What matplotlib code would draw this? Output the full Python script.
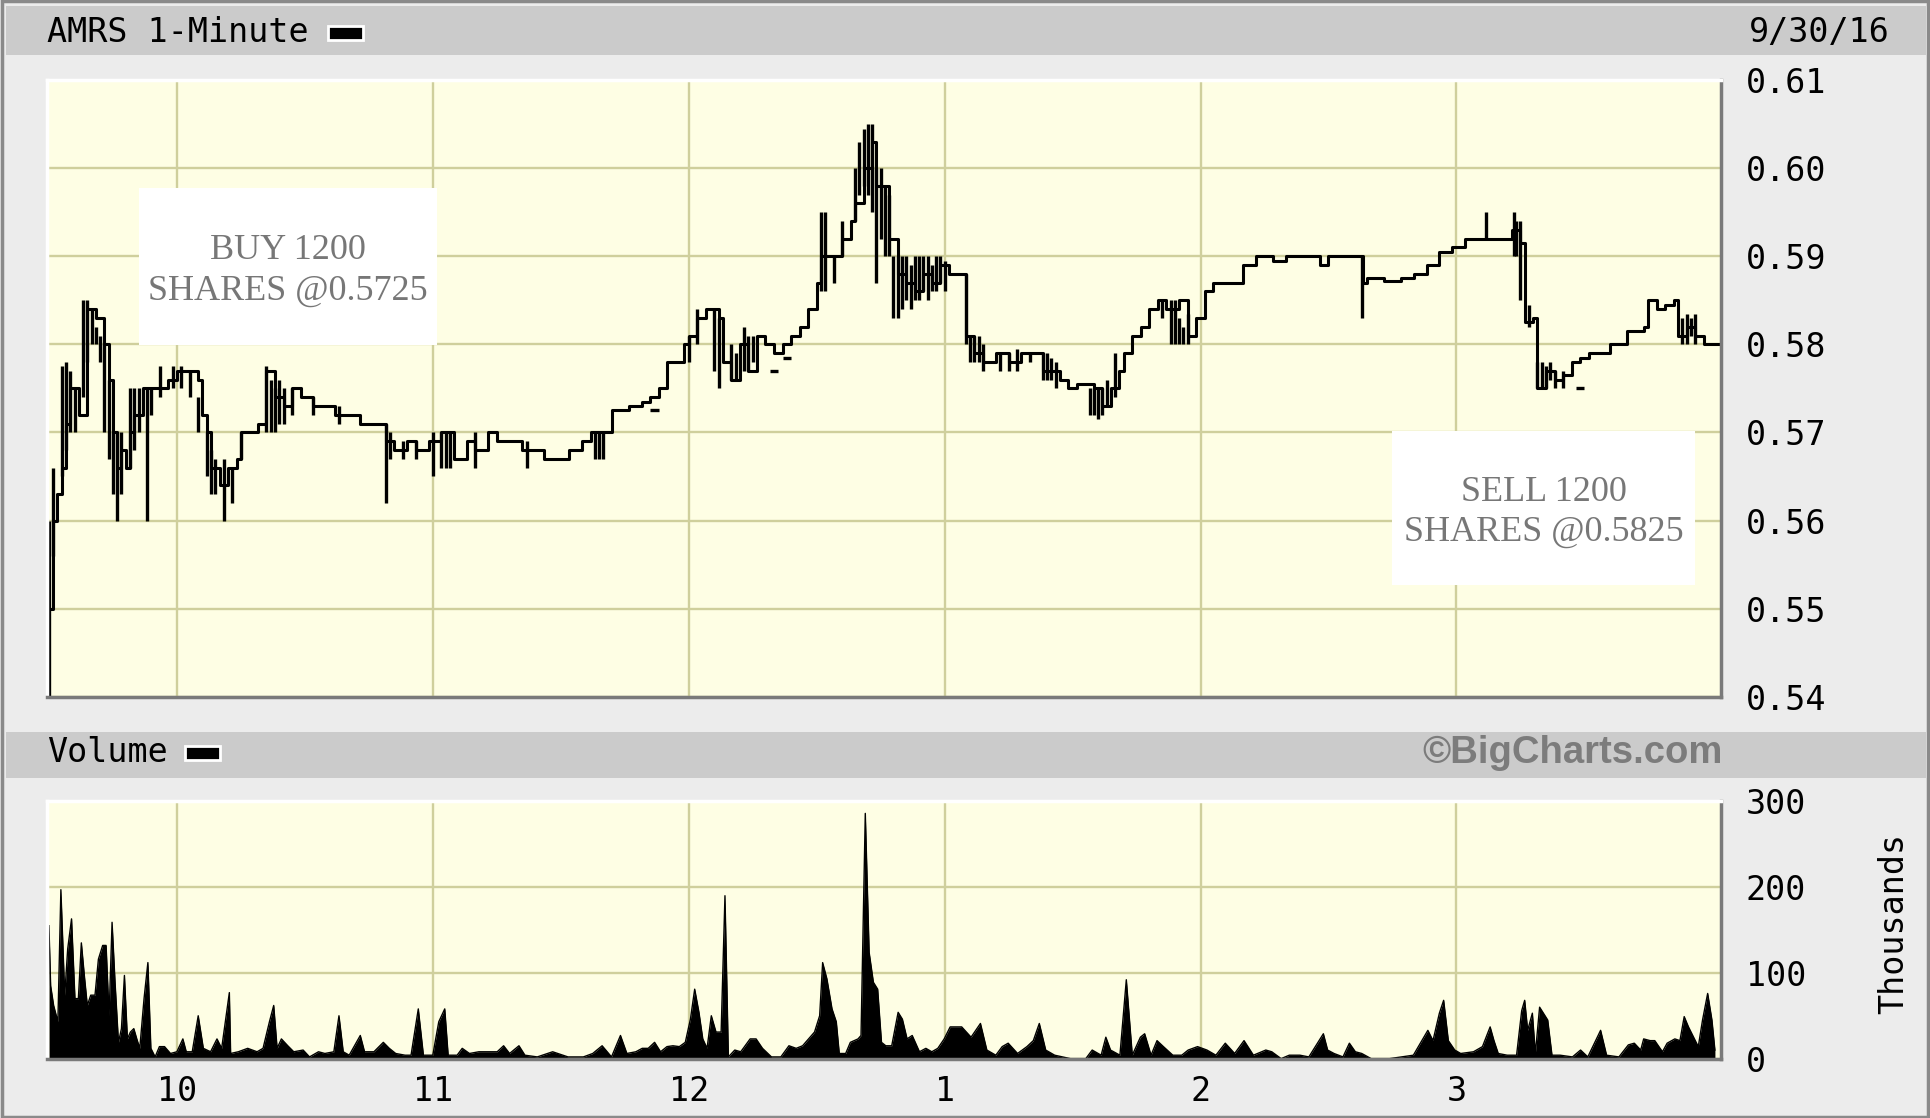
import numpy as np
import matplotlib.pyplot as plt
from matplotlib.patches import Rectangle

# AMRS 1-minute, 9/30/16 -- times are minutes after 9:30
price_min = [0, 1, 2, 3, 4, 5, 7, 9, 11, 13, 14, 15, 16, 17, 18, 19, 20, 22, 24, 26,
             28, 30, 33, 35, 36, 37, 38, 40, 42, 44, 45, 47, 49, 51, 53, 55, 57, 59, 62, 65,
             67, 70, 73, 76, 79, 81, 84, 86, 89, 92, 95, 98, 100, 103, 105, 108, 111, 113, 116, 119,
             122, 125, 127, 130, 132, 136, 139, 141, 143, 145, 147, 149, 150, 152, 154, 157, 158, 160, 162, 164,
             166, 168, 170, 172, 174, 176, 178, 180, 181, 183, 185, 186, 188, 189, 191, 193, 194, 196, 197, 199,
             201, 203, 205, 207, 209, 211, 213, 215, 217, 219, 222, 225, 228, 231, 233, 235, 237, 239, 241, 243,
             245, 247, 249, 251, 252, 254, 256, 258, 260, 262, 265, 267, 269, 271, 273, 277, 280, 283, 287, 290,
             295, 298, 300, 305, 308, 309, 313, 317, 320, 323, 326, 329, 332, 336, 340, 343, 345, 346, 348, 349,
             351, 353, 355, 357, 359, 361, 364, 366, 368, 370, 374, 375, 377, 379, 381, 382, 384, 386, 388, 392]
price_close = [0.550, 0.560, 0.563, 0.566, 0.571, 0.575, 0.572, 0.584, 0.583, 0.580, 0.576, 0.570, 0.566, 0.568, 0.566, 0.570, 0.572, 0.575, 0.575, 0.575,
               0.576, 0.577, 0.577, 0.576, 0.572, 0.570, 0.566, 0.564, 0.566, 0.567, 0.570, 0.570, 0.571, 0.577, 0.574, 0.573, 0.575, 0.574, 0.573, 0.573,
               0.572, 0.572, 0.571, 0.571, 0.569, 0.568, 0.569, 0.568, 0.569, 0.570, 0.567, 0.569, 0.568, 0.570, 0.569, 0.569, 0.568, 0.568, 0.567, 0.567,
               0.568, 0.569, 0.570, 0.570, 0.5725, 0.573, 0.5735, 0.574, 0.575, 0.578, 0.578, 0.580, 0.581, 0.583, 0.584, 0.583, 0.578, 0.576, 0.580, 0.577,
               0.581, 0.580, 0.579, 0.580, 0.581, 0.582, 0.584, 0.587, 0.590, 0.590, 0.590, 0.592, 0.594, 0.596, 0.600, 0.603, 0.598, 0.598, 0.592, 0.588,
               0.587, 0.586, 0.588, 0.587, 0.589, 0.588, 0.588, 0.581, 0.579, 0.578, 0.579, 0.578, 0.579, 0.579, 0.577, 0.577, 0.576, 0.575, 0.5755, 0.5755,
               0.575, 0.573, 0.575, 0.577, 0.579, 0.581, 0.582, 0.584, 0.585, 0.584, 0.585, 0.581, 0.583, 0.586, 0.587, 0.587, 0.589, 0.590, 0.5895, 0.590,
               0.590, 0.589, 0.590, 0.590, 0.587, 0.5875, 0.5872, 0.5875, 0.588, 0.589, 0.5905, 0.591, 0.592, 0.592, 0.592, 0.593, 0.5915, 0.5825, 0.583, 0.575,
               0.577, 0.576, 0.5765, 0.578, 0.5785, 0.579, 0.579, 0.580, 0.580, 0.5815, 0.582, 0.585, 0.584, 0.5845, 0.585, 0.581, 0.582, 0.581, 0.580, 0.580]

# per-minute high/low ranges (the dense vertical strokes)
bar_min = [0, 1, 3, 4, 5, 6, 8, 9, 10, 11, 12, 13, 14, 15, 16, 17, 19, 20, 21, 23,
           24, 26, 29, 31, 33, 35, 37, 38, 39, 41, 43, 45, 51, 52, 53, 54, 55, 57, 62, 68,
           79, 80, 83, 86, 90, 92, 93, 94, 100, 112, 128, 129, 130, 150, 152, 156, 157, 160, 161, 163,
           164, 165, 181, 182, 184, 186, 189, 190, 191, 192, 193, 194, 195, 196, 197, 198, 199, 200, 201, 202,
           203, 204, 205, 206, 207, 208, 209, 210, 215, 216, 217, 218, 219, 223, 225, 227, 230, 233, 234, 235,
           236, 244, 245, 246, 247, 248, 250, 261, 263, 264, 265, 266, 267, 307.8, 337, 343.5, 344, 345, 347, 349,
           350, 351, 352, 353, 355, 383, 384, 385, 386]
bar_low = [0.540, 0.556, 0.565, 0.568, 0.570, 0.570, 0.574, 0.578, 0.580, 0.580, 0.578, 0.570, 0.567, 0.563, 0.560, 0.563, 0.566, 0.568, 0.570, 0.560,
           0.572, 0.574, 0.575, 0.575, 0.574, 0.570, 0.565, 0.563, 0.563, 0.560, 0.562, 0.567, 0.570, 0.570, 0.570, 0.571, 0.571, 0.572, 0.572, 0.571,
           0.562, 0.567, 0.567, 0.567, 0.565, 0.566, 0.566, 0.566, 0.566, 0.566, 0.567, 0.567, 0.567, 0.578, 0.580, 0.577, 0.575, 0.576, 0.576, 0.577,
           0.577, 0.578, 0.586, 0.586, 0.587, 0.590, 0.594, 0.597, 0.598, 0.597, 0.595, 0.587, 0.592, 0.590, 0.590, 0.583, 0.583, 0.584, 0.585, 0.584,
           0.585, 0.585, 0.586, 0.585, 0.586, 0.586, 0.587, 0.586, 0.580, 0.578, 0.578, 0.578, 0.577, 0.577, 0.577, 0.577, 0.578, 0.576, 0.576, 0.576,
           0.575, 0.572, 0.572, 0.5715, 0.572, 0.573, 0.574, 0.583, 0.580, 0.580, 0.580, 0.580, 0.580, 0.583, 0.592, 0.590, 0.590, 0.585, 0.582, 0.575,
           0.575, 0.575, 0.576, 0.575, 0.575, 0.580, 0.580, 0.581, 0.580]
bar_high = [0.560, 0.566, 0.5775, 0.578, 0.577, 0.575, 0.585, 0.585, 0.584, 0.582, 0.581, 0.580, 0.576, 0.570, 0.570, 0.570, 0.575, 0.575, 0.575, 0.575,
            0.575, 0.5775, 0.5775, 0.5775, 0.577, 0.574, 0.570, 0.568, 0.567, 0.567, 0.566, 0.570, 0.5775, 0.576, 0.575, 0.576, 0.575, 0.575, 0.574, 0.573,
            0.571, 0.570, 0.569, 0.569, 0.570, 0.570, 0.570, 0.570, 0.570, 0.569, 0.570, 0.570, 0.570, 0.581, 0.584, 0.584, 0.583, 0.580, 0.579, 0.582,
            0.581, 0.581, 0.595, 0.595, 0.590, 0.594, 0.600, 0.603, 0.6045, 0.605, 0.605, 0.600, 0.600, 0.598, 0.597, 0.590, 0.590, 0.590, 0.590, 0.589,
            0.590, 0.590, 0.590, 0.590, 0.589, 0.590, 0.590, 0.5895, 0.588, 0.581, 0.581, 0.581, 0.580, 0.579, 0.579, 0.5795, 0.579, 0.579, 0.579, 0.5785,
            0.578, 0.575, 0.575, 0.575, 0.575, 0.576, 0.579, 0.585, 0.585, 0.585, 0.583, 0.582, 0.5835, 0.590, 0.595, 0.595, 0.594, 0.594, 0.5845, 0.578,
            0.578, 0.5775, 0.578, 0.577, 0.577, 0.583, 0.5835, 0.583, 0.5835]

# stray one-trade ticks
dash_min = [170, 173, 142, 359]
dash_px = [0.577, 0.5785, 0.5725, 0.575]

vol_min = [0, 0.4, 1.1, 2.1, 2.8, 3.7, 4.4, 5.3, 6.1, 6.9, 7.6, 8.3, 9.0, 9.8, 10.8, 11.6, 12.6, 13.4, 14.1, 14.8,
           15.5, 16.3, 17.0, 17.7, 18.4, 19.1, 19.9, 20.6, 21.3, 22.3, 23.2, 23.9, 24.9, 25.9, 27.1, 28.5, 30.0, 31.4, 32.2, 33.6,
           35.0, 36.2, 37.9, 39.4, 40.5, 42.3, 42.6, 44.4, 46.6, 48.8, 50.2, 51.7, 52.7, 53.5, 54.5, 56.0, 57.4, 59.6, 61.1, 63.2,
           64.7, 66.8, 68.0, 69.0, 70.4, 73.0, 74.0, 76.2, 78.4, 79.8, 81.3, 83.5, 84.9, 86.6, 87.8, 90.0, 91.4, 92.8, 93.6, 95.7,
           96.9, 98.6, 100.8, 103.0, 105.1, 106.6, 108.0, 110.2, 111.6, 114.5, 118.1, 121.7, 125.3, 127.5, 129.7, 131.9, 134.0, 135.5, 137.6, 139.1,
           140.5, 142.0, 143.4, 144.9, 146.3, 147.8, 149.2, 150.4, 151.4, 152.4, 153.3, 154.3, 155.3, 156.4, 157.6, 158.5, 159.3, 160.8, 162.2, 164.4,
           165.8, 167.3, 169.4, 171.6, 173.5, 175.2, 176.7, 178.1, 179.5, 180.7, 181.4, 182.4, 183.6, 184.6, 185.3, 186.8, 187.9, 189.7, 190.4, 191.4,
           192.3, 193.3, 194.3, 195.2, 196.2, 197.6, 199.1, 200.1, 201.2, 202.4, 204.1, 205.6, 207.0, 208.4, 209.9, 211.3, 214.0, 216.2, 218.4, 219.9,
           222.0, 223.5, 224.9, 227.1, 229.3, 230.8, 232.2, 233.7, 235.8, 239.5, 243.1, 244.6, 246.7, 247.8, 248.9, 251.1, 252.6, 254.0, 255.9, 256.9,
           258.4, 259.8, 261.3, 263.5, 265.6, 267.1, 269.3, 271.5, 273.6, 275.8, 278.0, 280.2, 282.4, 285.3, 286.7, 288.9, 290.8, 293.3, 295.4, 298.8,
           299.8, 301.3, 303.4, 304.9, 306.3, 307.8, 310.0, 314.3, 319.9, 323.3, 324.5, 326.0, 327.0, 328.1, 329.6, 331.0, 334.0, 336.1, 337.9, 338.8,
           339.8, 341.9, 344.1, 345.3, 346.0, 346.7, 347.8, 348.5, 349.5, 350.4, 351.4, 352.4, 354.3, 357.2, 359.1, 360.8, 363.8, 365.2, 368.1, 370.3,
           371.7, 373.2, 373.9, 375.4, 376.5, 378.3, 379.4, 381.2, 382.4, 383.4, 384.4, 385.6, 386.7, 387.7, 388.9, 389.9, 390.6]
vol_k = [155, 85, 62, 43, 197, 74, 128, 163, 70, 70, 135, 97, 62, 74, 74, 116, 132, 132, 50, 159,
         89, 19, 35, 97, 23, 31, 35, 23, 12, 70, 112, 12, 2, 14, 14, 6, 8, 23, 8, 8,
         50, 12, 8, 23, 12, 77, 6, 8, 12, 8, 12, 43, 62, 12, 23, 15, 8, 10, 2, 8,
         6, 8, 50, 8, 4, 27, 8, 8, 19, 12, 6, 4, 4, 58, 4, 4, 43, 58, 4, 4,
         12, 6, 8, 8, 8, 15, 6, 15, 4, 2, 8, 2, 2, 6, 15, 2, 27, 6, 8, 12,
         12, 19, 8, 14, 15, 14, 19, 46, 81, 54, 23, 12, 50, 31, 31, 190, 2, 10, 8, 23,
         23, 12, 2, 2, 15, 12, 15, 23, 31, 50, 112, 93, 58, 43, 6, 6, 19, 23, 27, 286,
         124, 89, 81, 19, 15, 15, 54, 46, 23, 27, 8, 12, 8, 12, 23, 37, 37, 25, 41, 10,
         4, 14, 18, 6, 14, 21, 41, 10, 4, 0, 0, 10, 4, 25, 10, 4, 92, 4, 25, 29,
         4, 21, 14, 4, 4, 10, 14, 10, 4, 18, 6, 21, 4, 10, 8, 0, 4, 4, 2, 29,
         10, 6, 2, 18, 8, 6, 0, 0, 4, 33, 21, 53, 68, 21, 10, 6, 8, 14, 37, 21,
         6, 4, 4, 56, 68, 33, 53, 6, 60, 53, 45, 4, 4, 2, 10, 2, 33, 4, 2, 16,
         18, 10, 23, 21, 21, 8, 18, 23, 21, 49, 37, 25, 14, 45, 76, 45, 10]

hour_min = [30, 90, 150, 210, 270, 330]
hour_labels = ["10", "11", "12", "1", "2", "3"]
price_ticks = [0.54, 0.55, 0.56, 0.57, 0.58, 0.59, 0.60, 0.61]
vol_ticks = [0, 100, 200, 300]

face = "#fefee4"
grid_c = "#cfcf9c"
mono = "DejaVu Sans Mono"
fs = 24

fig = plt.figure(figsize=(19.3, 11.18), dpi=100, facecolor="#ececec")

# frame + title bars
fig.patches.append(Rectangle((0.001, 0.001), 0.998, 0.998, transform=fig.transFigure,
                             fill=False, edgecolor="#8a8a8a", lw=2.5))
for y0, h in [(0.9508, 0.0438), (0.3041, 0.0412)]:
    fig.patches.append(Rectangle((0.0031, y0), 0.9949, h, transform=fig.transFigure,
                                 facecolor="#cbcbcb", edgecolor="none"))
for x0, y0 in [(0.1700, 0.9640), (0.0960, 0.3200)]:
    fig.patches.append(Rectangle((x0, y0), 0.0180, 0.0125, transform=fig.transFigure,
                                 facecolor="black", edgecolor="white", lw=2))

fig.text(0.0244, 0.9705, "AMRS 1-Minute", family=mono, fontsize=fs, va="center", ha="left")
fig.text(0.0244, 0.3265, "Volume", family=mono, fontsize=fs, va="center", ha="left")
fig.text(0.9790, 0.9705, "9/30/16", family=mono, fontsize=fs, va="center", ha="right")
fig.text(0.8928, 0.3265, "\u00a9BigCharts.com", family="Liberation Sans", fontweight="bold",
         fontsize=27.5, color="#7c7c7c", va="center", ha="right")
fig.text(0.981, 0.1744, "Thousands", family=mono, fontsize=fs, rotation=90, va="center", ha="center")

ax = fig.add_axes([0.02425, 0.3768, 0.8674, 0.5516])
axv = fig.add_axes([0.02425, 0.0531, 0.8674, 0.2301])

for a in (ax, axv):
    a.set_facecolor(face)
    a.set_xlim(-0.5, 392)
    a.set_xticks(hour_min)
    a.grid(True, color=grid_c, lw=1.7)
    a.set_axisbelow(True)
    a.yaxis.tick_right()
    a.tick_params(length=0, labelsize=fs, pad=18)
    for lab in a.get_xticklabels() + a.get_yticklabels():
        lab.set_family(mono)
    a.spines["top"].set_color("white")
    a.spines["left"].set_color("white")
    a.spines["right"].set_color("#7a7a7a")
    a.spines["bottom"].set_color("#7a7a7a")
    for s in a.spines.values():
        s.set_linewidth(2.5)

# price panel
ax.set_ylim(0.54, 0.61)
ax.set_yticks(price_ticks)
ax.set_yticklabels(["%.2f" % v for v in price_ticks])
ax.set_xticklabels([])
ax.plot(price_min, price_close, drawstyle="steps-post", color="black", lw=2.2)
ax.vlines(bar_min, bar_low, bar_high, color="black", lw=2.4)
ax.hlines(dash_px, np.array(dash_min) - 1, np.array(dash_min) + 1, color="black", lw=2.4)

# trade notes
for x0, x1, y0, y1, txt in [(21, 91, 0.5799, 0.5978, "BUY 1200\nSHARES @0.5725"),
                            (315, 386, 0.5527, 0.5702, "SELL 1200\nSHARES @0.5825")]:
    ax.add_patch(Rectangle((x0, y0), x1 - x0, y1 - y0, facecolor="white", edgecolor="none", zorder=4))
    ax.text((x0 + x1) / 2, (y0 + y1) / 2 - 0.0005, txt, family="Liberation Serif", fontsize=26,
            color="#777777", ha="center", va="center", linespacing=1.28, zorder=5)

# volume panel
axv.set_ylim(0, 300)
axv.set_yticks(vol_ticks)
axv.set_yticklabels([str(v) for v in vol_ticks])
axv.set_xticklabels(hour_labels)
axv.tick_params(axis="x", pad=12)
axv.fill_between(vol_min, 0, vol_k, color="black", lw=0)
axv.plot(vol_min, vol_k, color="black", lw=1.0)

fig.savefig("out.png", dpi=100, facecolor=fig.get_facecolor())
